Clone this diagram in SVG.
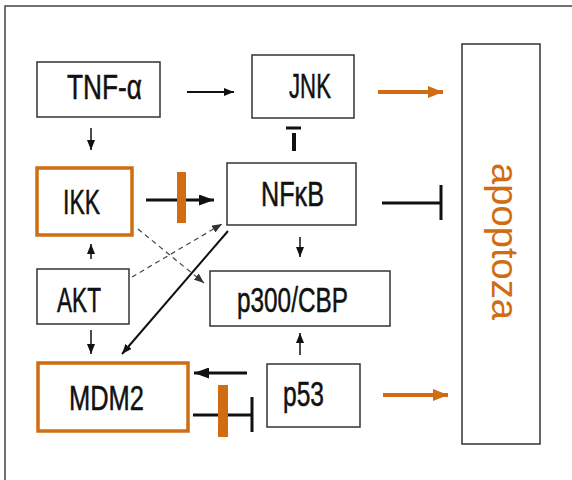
<svg xmlns="http://www.w3.org/2000/svg" width="572" height="480" viewBox="0 0 572 480">
<style>
.box{fill:#fff;stroke:#333;stroke-width:1.5}
.obox{fill:#fff;stroke:#d06c12;stroke-width:3.5}
.lbl{font-family:"Liberation Sans",Arial,sans-serif;font-size:35px;fill:#111;stroke:#111;stroke-width:0.5;text-anchor:middle}
.ln{stroke:#111;fill:none}
.dash{stroke:#444;stroke-width:1.2;fill:none;stroke-dasharray:5,4}
.or{stroke:#d06c12;stroke-width:4;fill:none}
.ob{fill:#d06c12}
</style>
<defs>
<marker id="ah" markerUnits="userSpaceOnUse" markerWidth="10" markerHeight="8" refX="10" refY="4" orient="auto"><path d="M0,0L10,4L0,8z" fill="#111"/></marker>
<marker id="ahb" markerUnits="userSpaceOnUse" markerWidth="15" markerHeight="11" refX="15" refY="5.5" orient="auto"><path d="M0,0L15,5.5L0,11z" fill="#111"/></marker>
<marker id="ahd" markerUnits="userSpaceOnUse" markerWidth="10" markerHeight="8" refX="10" refY="4" orient="auto"><path d="M0,0L10,4L0,8z" fill="#333"/></marker>
<marker id="aho" markerUnits="userSpaceOnUse" markerWidth="15" markerHeight="12" refX="15" refY="6" orient="auto"><path d="M0,0L15,6L0,12z" fill="#d06c12"/></marker>
</defs>
<rect width="572" height="480" fill="#fff"/>
<path d="M5,480V6H572" fill="none" stroke="#444" stroke-width="1.5"/>

<g id="connectors">
<line class="ln" stroke-width="2" x1="187" y1="92" x2="234" y2="92" marker-end="url(#ah)"/>
<line class="ln" stroke-width="1.5" x1="91" y1="128" x2="91" y2="150" marker-end="url(#ah)"/>
<line class="ln" stroke-width="3" x1="146" y1="200" x2="214" y2="200" marker-end="url(#ahb)"/>
<line class="ln" stroke-width="1.5" x1="91" y1="259" x2="91" y2="244" marker-end="url(#ah)"/>
<line class="ln" stroke-width="1.5" x1="91" y1="330" x2="91" y2="354" marker-end="url(#ah)"/>
<line class="ln" stroke-width="1.5" x1="300" y1="237" x2="300" y2="257" marker-end="url(#ah)"/>
<line class="ln" stroke-width="1.5" x1="300" y1="355" x2="300" y2="333" marker-end="url(#ah)"/>
<line class="ln" stroke-width="3" x1="247" y1="373" x2="194" y2="373" marker-end="url(#ahb)"/>
<line class="ln" stroke-width="2" x1="228" y1="231" x2="122" y2="354" marker-end="url(#ah)"/>
<line class="dash" x1="132" y1="277" x2="222" y2="224" marker-end="url(#ahd)"/>
<line class="dash" x1="138" y1="229" x2="204" y2="283" marker-end="url(#ahd)"/>
<line class="or" x1="378" y1="92" x2="443" y2="92" marker-end="url(#aho)"/>
<line class="or" x1="383" y1="395" x2="448" y2="395" marker-end="url(#aho)"/>
<path class="ln" stroke-width="3" d="M286,128H301"/>
<path class="ln" stroke-width="4" d="M294,133V151"/>
<path class="ln" stroke-width="3" d="M382,203H441M441,185V220"/>
<path class="ln" stroke-width="3" d="M193,415H252M252,397V432"/>
<rect class="ob" x="177" y="172" width="9" height="51"/>
<rect class="ob" x="218" y="385" width="10" height="52"/>
</g>

<g id="tnf"><rect class="box" x="37" y="62" width="123" height="55"/><text class="lbl" x="104.5" y="99" font-size="37" textLength="75" lengthAdjust="spacingAndGlyphs">TNF-α</text></g>
<g id="jnk"><rect class="box" x="252" y="55" width="102" height="63"/><text class="lbl" x="310" y="98" textLength="42" lengthAdjust="spacingAndGlyphs">JNK</text></g>
<g id="ikk"><rect class="obox" x="37" y="168" width="95" height="67"/><text class="lbl" x="81.5" y="213.5" textLength="37" lengthAdjust="spacingAndGlyphs">IKK</text></g>
<g id="nfkb"><rect class="box" x="227" y="163" width="129" height="62"/><text class="lbl" x="292.5" y="206" textLength="63" lengthAdjust="spacingAndGlyphs">NFκB</text></g>
<g id="akt"><rect class="box" x="37" y="269" width="92" height="55"/><text class="lbl" x="79" y="311.5" textLength="44" lengthAdjust="spacingAndGlyphs">AKT</text></g>
<g id="p300"><rect class="box" x="210" y="271" width="180" height="55"/><text class="lbl" x="292.5" y="311.5" textLength="111" lengthAdjust="spacingAndGlyphs">p300/CBP</text></g>
<g id="mdm2"><rect class="obox" x="38" y="363" width="150" height="68"/><text class="lbl" x="106.5" y="410" textLength="75" lengthAdjust="spacingAndGlyphs">MDM2</text></g>
<g id="p53"><rect class="box" x="267" y="364" width="93" height="63"/><text class="lbl" x="303.5" y="405.5" textLength="41" lengthAdjust="spacingAndGlyphs">p53</text></g>
<g id="apoptoza"><rect class="box" x="462" y="44" width="78" height="400"/><text x="0" y="0" transform="translate(492,241.5) rotate(90)" font-family="'Liberation Sans',Arial,sans-serif" font-size="36" fill="#d06c12" text-anchor="middle" textLength="157" lengthAdjust="spacingAndGlyphs">apoptoza</text></g>
</svg>
